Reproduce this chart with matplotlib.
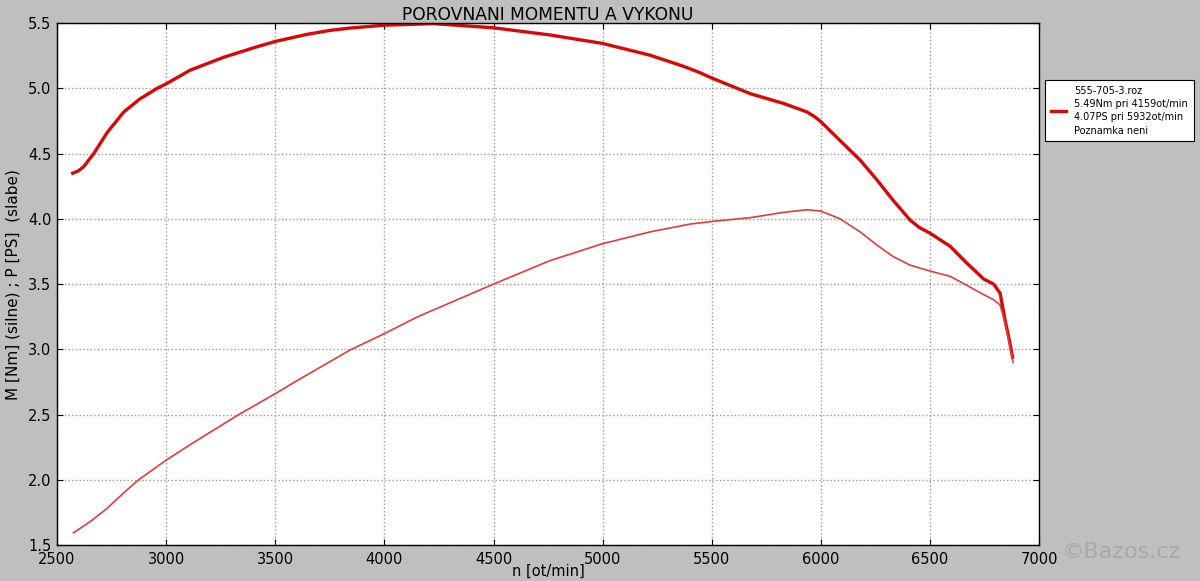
import matplotlib.pyplot as plt

# otacky a hodnoty
ot_moment = [2572, 2600, 2622, 2668, 2729, 2806, 2880, 2958, 3000, 3110, 3265, 3417,
             3499, 3646, 3750, 3843, 4000, 4225, 4500, 4759, 5000, 5217, 5370, 5447,
             5500, 5676, 5829, 5936, 5970, 6000, 6088, 6180, 6256, 6332, 6409, 6450,
             6500, 6592, 6669, 6745, 6791, 6821, 6844, 6862, 6878]
moment = [4.35, 4.37, 4.40, 4.50, 4.66, 4.82, 4.92, 5.00, 5.035, 5.14, 5.24, 5.32,
          5.36, 5.415, 5.445, 5.463, 5.485, 5.497, 5.465, 5.41, 5.345, 5.255, 5.17, 5.12,
          5.08, 4.96, 4.885, 4.82, 4.785, 4.745, 4.60, 4.45, 4.30, 4.14, 3.99, 3.935,
          3.89, 3.79, 3.66, 3.54, 3.50, 3.43, 3.22, 3.08, 2.94]

ot_vykon = [2576, 2653, 2729, 2806, 2874, 3000, 3111, 3333, 3500, 3600, 3843, 4000,
            4153, 4500, 4759, 5000, 5217, 5400, 5500, 5679, 5829, 5936, 6000, 6088,
            6180, 6256, 6332, 6409, 6500, 6592, 6669, 6745, 6791, 6821, 6844, 6862,
            6880]
vykon = [1.594, 1.68, 1.78, 1.90, 2.00, 2.15, 2.27, 2.50, 2.66, 2.76, 2.995, 3.12,
         3.25, 3.50, 3.68, 3.81, 3.90, 3.96, 3.98, 4.01, 4.05, 4.07, 4.06, 4.00,
         3.90, 3.80, 3.71, 3.645, 3.60, 3.56, 3.49, 3.42, 3.38, 3.34, 3.20, 3.06,
         2.90]

popisek = "555-705-3.roz\n5.49Nm pri 4159ot/min\n4.07PS pri 5932ot/min\nPoznamka neni"

fig = plt.figure(figsize=(12, 5.81), dpi=100, facecolor="#bfbfbf")
ax = fig.add_axes([0.0475, 0.062, 0.8185, 0.898])

ax.plot(ot_moment, moment, color="#d80808", linewidth=2.4, label=popisek,
        solid_joinstyle="round")
ax.plot(ot_vykon, vykon, color="#e03c3c", linewidth=1.2, solid_joinstyle="round")

ax.set_xlim(2500, 7000)
ax.set_ylim(1.5, 5.5)
ax.set_xticks(range(2500, 7001, 500))
ax.set_yticks([1.5, 2.0, 2.5, 3.0, 3.5, 4.0, 4.5, 5.0, 5.5])
ax.tick_params(direction="in", top=True, right=True, labelsize=10.5, length=4)
ax.tick_params(axis="x", pad=5)
ax.tick_params(axis="y", pad=4)
ax.grid(True, linestyle=":", color="#999999", linewidth=1.0)
for s in ax.spines.values():
    s.set_linewidth(1.0)

ax.set_title("POROVNANI MOMENTU A VYKONU", fontsize=12.3, pad=2)
ax.set_xlabel("n [ot/min]", fontsize=10.5, labelpad=-2)
ax.set_ylabel("M [Nm] (silne) ; P [PS]  (slabe)", fontsize=11, labelpad=5)

leg = ax.legend(loc="upper left", bbox_to_anchor=(1.006, 0.891), fontsize=7,
                frameon=True, fancybox=False, handlelength=1.6, borderpad=0.6,
                borderaxespad=0)
leg.get_frame().set_edgecolor("black")
leg.get_frame().set_facecolor("white")
leg.get_frame().set_alpha(1)
leg.get_frame().set_linewidth(0.8)
for t in leg.get_texts():
    t.set_linespacing(1.4)

fig.text(0.885, 0.05, "©Bazos.cz", fontsize=16, color="#a8a8a8", ha="left", va="center")

plt.savefig("out.png", dpi=100, facecolor=fig.get_facecolor())
